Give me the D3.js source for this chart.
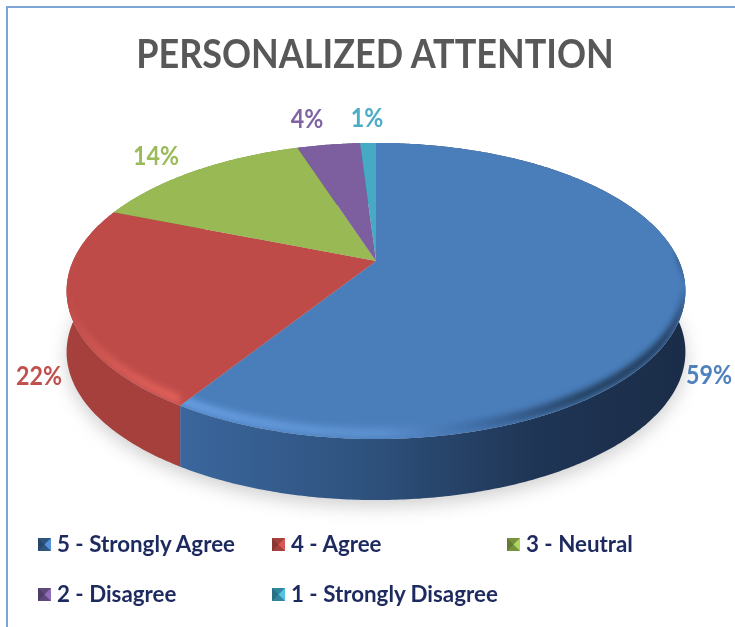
<!DOCTYPE html>
<html><head><meta charset="utf-8">
<script src="https://cdn.jsdelivr.net/npm/d3@7/dist/d3.min.js"></script>
<style>html,body{margin:0;padding:0;background:#fff;overflow:hidden}svg{display:block}text{font-family:Lato,"Open Sans",sans-serif;font-weight:700}</style>
</head><body><svg id="c" width="735" height="627"></svg>
<script>
const categories=["5 - Strongly Agree","4 - Agree","3 - Neutral","2 - Disagree","1 - Strongly Disagree"];
const values=[59,22,14,4,1];
const labels=["59%","22%","14%","4%","1%"];
const topColors=["#4a7ebb","#be4b48","#98b954","#7d5fa0","#46aac5"];
const sideColors=["#2f5480","#a5403c","#76923c","#5f497a","#31859c"];
const textColors=["#4f81bd","#c0504d","#9bbb59","#8064a2","#4bacc6"];
const title="PERSONALIZED ATTENTION";

const W=735,H=627;
const svg=d3.select("#c");
const defs=svg.append("defs");
const cx=376,cy=261,a=303,b=142,k=0.2026,depth=61,bevel=11;
const sx=d3.scaleLinear().domain([-1,1]).range([cx-a,cx+a]);
const sy=d3.scaleLinear().domain([-1,1]).range([cy-b,cy+b]);
const proj=(ang,r=1)=>{const u=r*Math.sin(ang),v=-r*Math.cos(ang),w=1-k*v;return [sx(u/w),sy(v/w)];};
const arcs=d3.pie().sort(null)(values);
const line=d3.line();
const samples=(s,e)=>{const n=Math.max(3,Math.ceil((e-s)/0.01));return d3.range(n+1).map(i=>s+(e-s)*i/n);};
// squeeze text horizontally, Calibri being narrower than Lato
const squeeze=(sel,f)=>sel.each(function(){this.setAttribute("textLength",this.getComputedTextLength()*f);this.setAttribute("lengthAdjust","spacingAndGlyphs");});

const blur=(id,sd)=>defs.append("filter").attr("id",id).attr("x","-20%").attr("y","-20%").attr("width","140%").attr("height","140%")
  .append("feGaussianBlur").attr("stdDeviation",sd);
blur("shadow",9);blur("rimBlur",3);blur("soft",0.55);
const grad=(id,x1,x2,stops)=>{const g=defs.append("linearGradient").attr("id",id).attr("gradientUnits","userSpaceOnUse")
  .attr("x1",x1).attr("x2",x2).attr("y1",0).attr("y2",0);
  stops.forEach(([o,c])=>g.append("stop").attr("offset",o).attr("stop-color",c));};
grad("sideBlue",178,690,[[0,"#3b679e"],[0.35,"#2f537f"],[0.7,"#1f3555"],[1,"#1a2c47"]]);
grad("rimBlue",178,690,[[0,"#689ee2"],[0.4,"#5c90cf"],[0.58,"#3f6da6"],[0.78,"#24405f"],[1,"#1b2f4d"]]);
grad("rimRed",60,180,[[0,"#c24f4b"],[0.4,"#d65a55"],[1,"#e2625c"]]);
const sideFill=["url(#sideBlue)",...sideColors.slice(1)];
const rimFill=["url(#rimBlue)","url(#rimRed)"];

// frame
svg.append("rect").attr("x",7).attr("y",7).attr("width",W+10).attr("height",H+10)
  .attr("fill","#fff").attr("stroke","#7ea4d6").attr("stroke-width",2);

// title
svg.append("text").attr("x",375).attr("y",68).attr("text-anchor","middle").attr("font-size",40)
  .attr("fill","#595959").attr("filter","url(#soft)").text(title).call(squeeze,0.9);

// soft shadow under the pie
const full=samples(0,2*Math.PI).map(t=>proj(t));
svg.append("path").attr("d",line(full.map(([x,y])=>[x,y+depth+6])))
  .attr("fill","#a8a8a8").attr("opacity",0.55).attr("filter","url(#shadow)");

// side walls
const g=svg.append("g");
g.selectAll("path.side").data(arcs).join("path").attr("class","side")
  .attr("fill",(d,i)=>sideFill[i])
  .attr("d",d=>{const p=samples(d.startAngle,d.endAngle).map(t=>proj(t));
    return line([...p,...p.slice().reverse().map(([x,y])=>[x,y+depth])])+"Z";});

// top faces
g.selectAll("path.top").data(arcs).join("path").attr("class","top")
  .attr("fill",(d,i)=>topColors[i])
  .attr("d",d=>line([proj(0,0),...samples(d.startAngle,d.endAngle).map(t=>proj(t))])+"Z");

// bevelled rim: a soft band hugging the front edge, thin at the silhouette
arcs.slice(0,2).forEach((d,i)=>{
  const c=defs.append("clipPath").attr("id","sliceClip"+i);
  c.append("path").attr("d",line([proj(0,0),...samples(d.startAngle,d.endAngle).map(t=>proj(t))])+"Z");
  const front=samples(d.startAngle,d.endAngle).filter(t=>-Math.cos(t)>-0.02).map(t=>proj(t));
  g.append("g").attr("clip-path",`url(#sliceClip${i})`).append("path")
    .attr("fill",rimFill[i]).attr("filter","url(#rimBlur)")
    .attr("d",line([...front.map(([x,y])=>[x,y-1]),...front.slice().reverse().map(([x,y])=>[x,y-bevel])])+"Z");
});

// slice labels
const labelX=[709,39,156,307,367],labelY=[384,385,165,128,127];
svg.selectAll("text.lab").data(labels).join("text").attr("class","lab")
  .attr("x",(d,i)=>labelX[i]).attr("y",(d,i)=>labelY[i]).attr("text-anchor","middle")
  .attr("font-size",27).attr("fill",(d,i)=>textColors[i]).attr("filter","url(#soft)").text(d=>d).call(squeeze,0.86);

// legend
const legX=[38,272,507,38,272],legY=[544,544,544,594,594];
const lg=svg.selectAll("g.leg").data(categories).join("g").attr("class","leg")
  .attr("transform",(d,i)=>`translate(${legX[i]},${legY[i]})`);
lg.append("rect").attr("x",0).attr("y",-6).attr("width",13).attr("height",13).attr("fill",(d,i)=>sideColors[i]);
lg.append("path").attr("d","M0,-6L6.5,0.5L0,7Z").attr("fill",(d,i)=>d3.color(sideColors[i]).darker(0.5));
lg.append("path").attr("d","M13,-6L6.5,0.5L13,7Z").attr("fill",(d,i)=>d3.color(topColors[i]).brighter(0.4));
lg.append("text").attr("x",19).attr("y",8).attr("font-size",23.5).attr("fill","#1f2a5e").attr("filter","url(#soft)").text(d=>d).call(squeeze,0.95);
</script></body></html>
